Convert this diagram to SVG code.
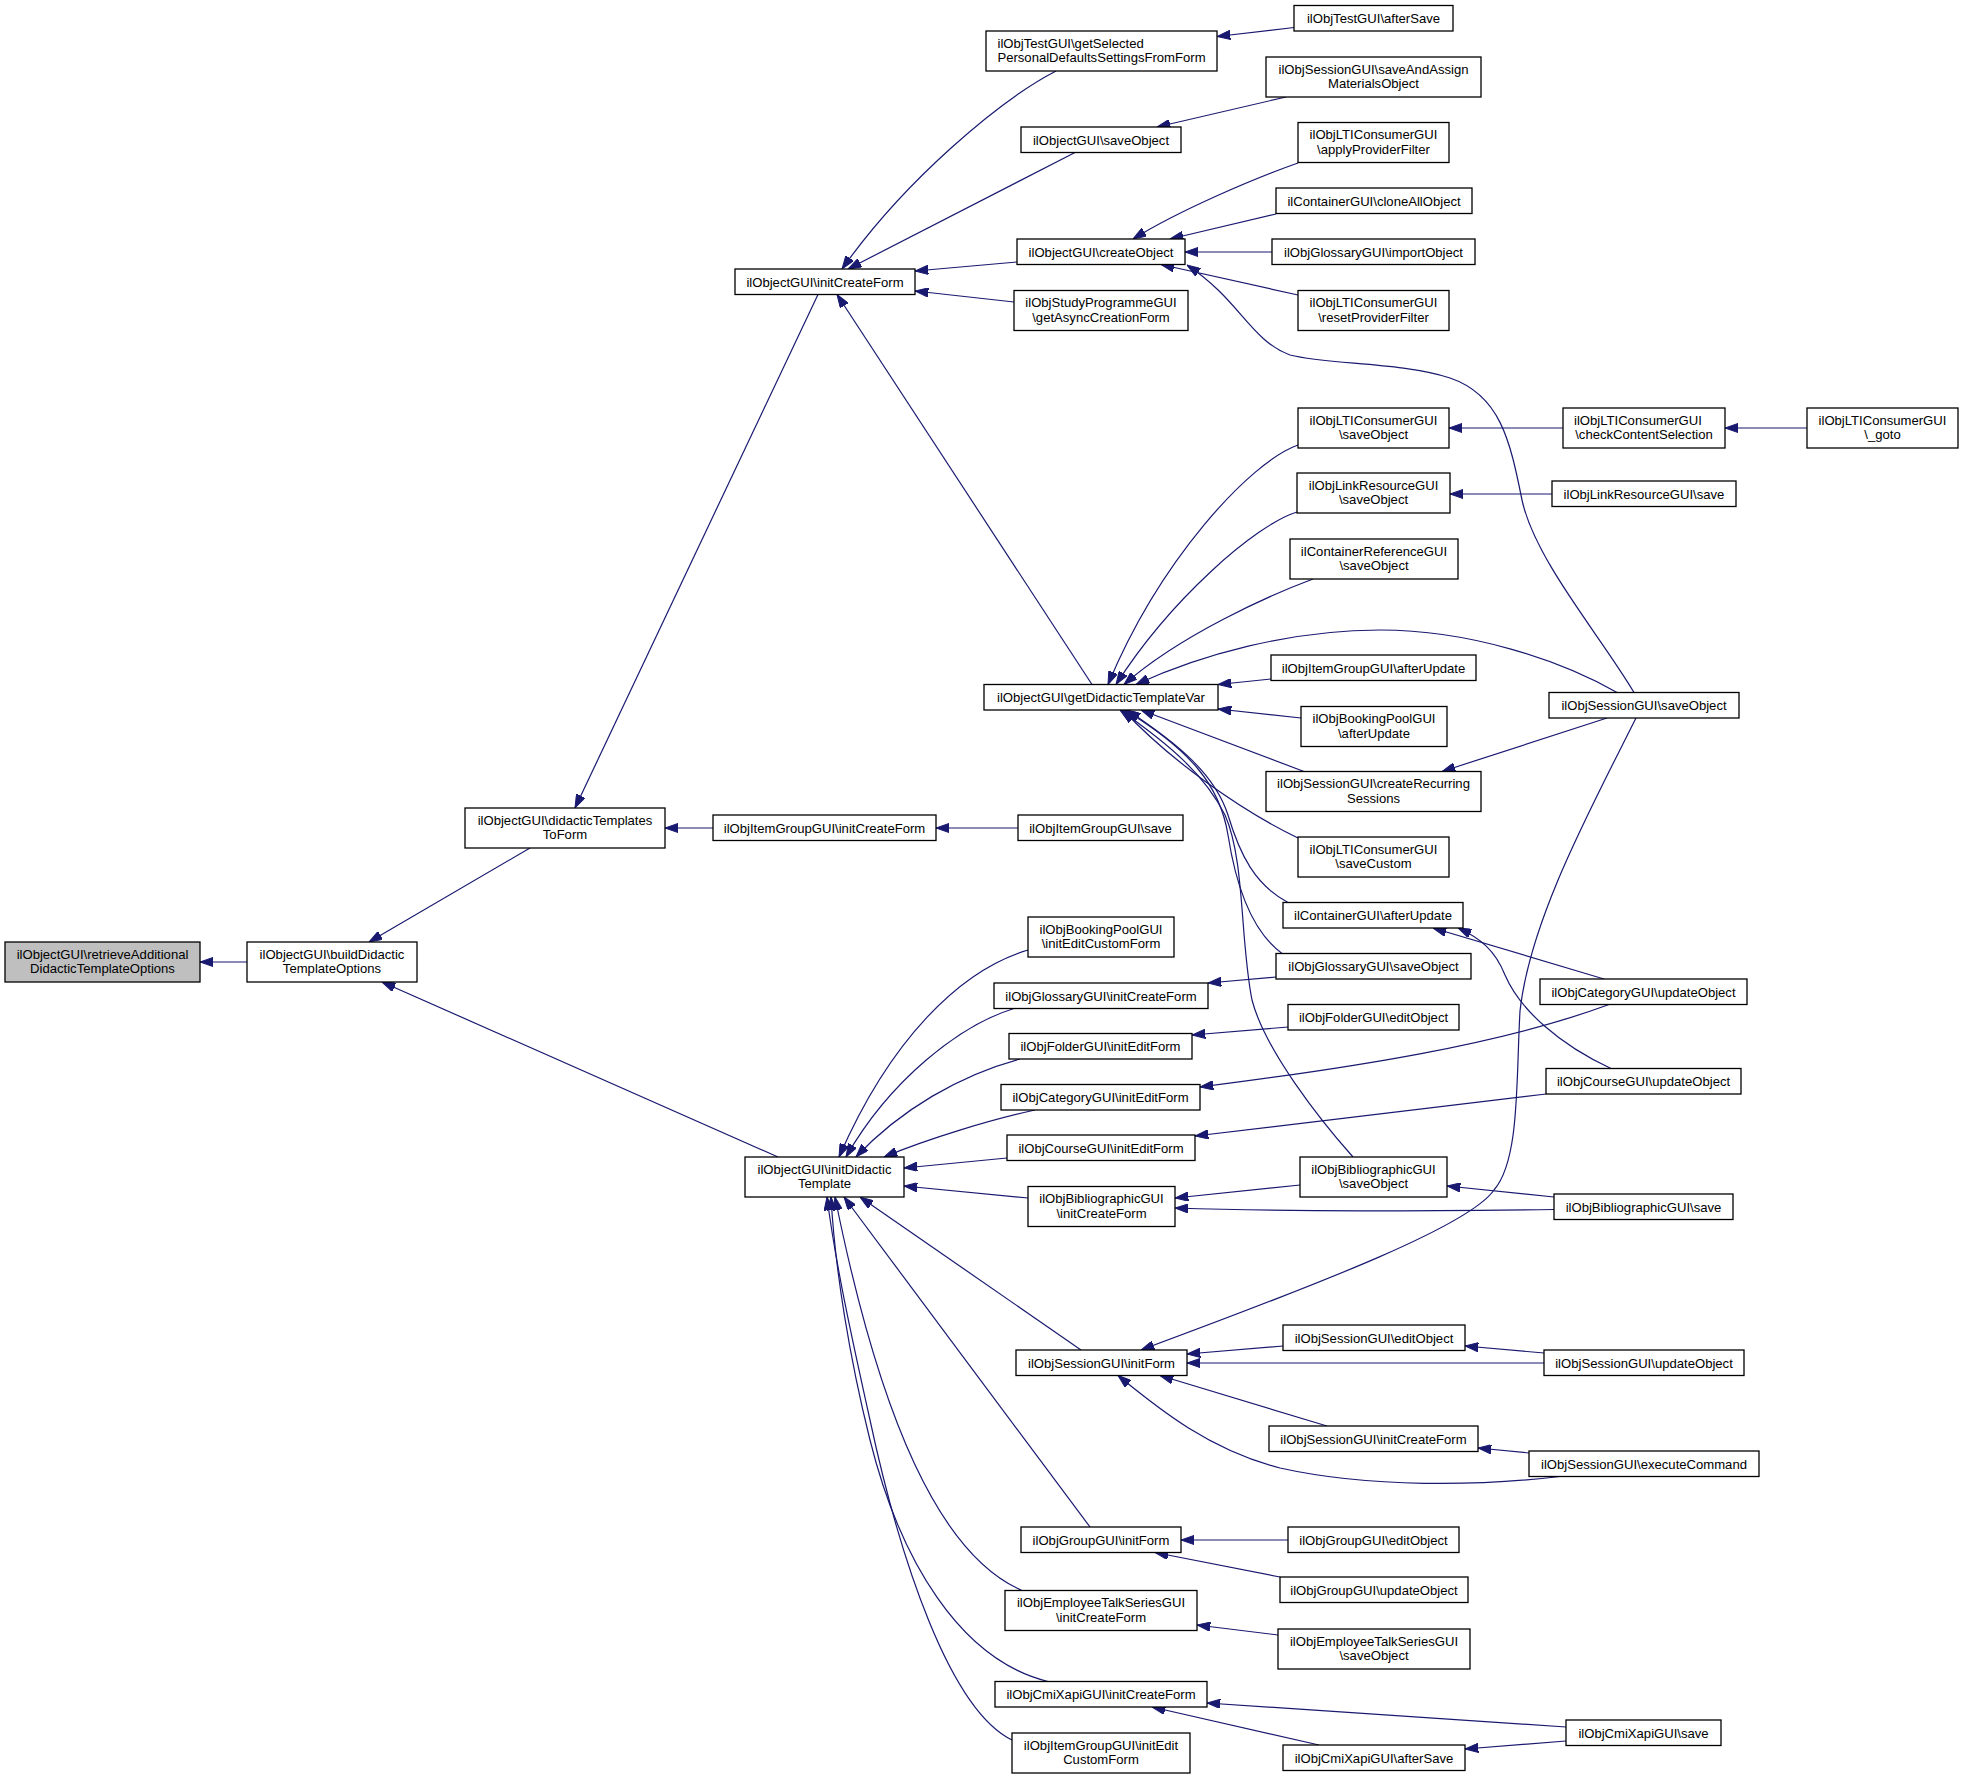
<svg xmlns="http://www.w3.org/2000/svg" width="1963" height="1779" viewBox="0 0 1963 1779">
<defs>
<marker id="ah" viewBox="0 0 13.3 9.3" refX="13.3" refY="4.65" markerWidth="13.3" markerHeight="9.3" markerUnits="userSpaceOnUse" orient="auto">
<path d="M0,0 L13.3,4.65 L0,9.3 z" fill="#191970" stroke="#191970" stroke-width="1"/>
</marker>
<style>
.node rect{fill:#fff;stroke:#000;stroke-width:1.3}
.node.hl rect{fill:#bfbfbf}
.node text{font-family:"Liberation Sans",Arial,Helvetica,sans-serif;font-size:13.1px;fill:#000;text-anchor:middle}
.node text.l{text-anchor:start}
#edges path{fill:none;stroke:#191970;stroke-width:1.2;marker-end:url(#ah)}
</style>
</defs>
<rect x="0" y="0" width="1963" height="1779" fill="#fff"/>
<g id="edges">
<path d="M247,962 L200,962"/>
<path d="M530,848 L369,942"/>
<path d="M778,1157 L382,982"/>
<path d="M818,294.5 L575,808"/>
<path d="M713,828 L665,828"/>
<path d="M1018,828 L936,828"/>
<path d="M1092,684.5 L837,294.5"/>
<path d="M1056,71 C1000,100 905,180 842,269"/>
<path d="M1075,152.5 L848,269"/>
<path d="M1017,262 L915,271"/>
<path d="M1014,302 L915,291"/>
<path d="M1294,27.5 L1217,36.5"/>
<path d="M1286,97 L1157,127"/>
<path d="M1298,163 C1255,178 1180,210 1133,239"/>
<path d="M1276,214 L1170,239"/>
<path d="M1272,252 L1185,252"/>
<path d="M1298,295 L1161,264.5"/>
<path d="M1634,692.5 C1600,635 1535,560 1522,500 C1510,440 1500,395 1450,378 C1400,362 1330,365 1290,355 C1250,340 1240,300 1187,265"/>
<path d="M1563,428 L1449,428"/>
<path d="M1807,428 L1725,428"/>
<path d="M1552,494 L1450,494"/>
<path d="M1298,445 C1250,462 1160,560 1108,684.5"/>
<path d="M1297,512 C1255,525 1170,600 1116,684.5"/>
<path d="M1313,579 C1270,595 1180,635 1124,684.5"/>
<path d="M1617,692.5 C1560,660 1470,630 1380,630 C1290,630 1200,655 1136,684.5"/>
<path d="M1271,679 L1218,684.5"/>
<path d="M1301,718 L1218,709"/>
<path d="M1304,771.5 L1141,710"/>
<path d="M1298,838 C1240,810 1170,760 1123,710"/>
<path d="M1288,902.5 C1255,885 1240,855 1228,815 C1215,775 1180,745 1127,710"/>
<path d="M1282,953.5 C1250,930 1235,880 1228,835 C1220,785 1190,750 1125,710"/>
<path d="M1353,1157 C1320,1120 1265,1050 1252,1000 C1240,940 1245,860 1225,815 C1205,775 1170,745 1120,710"/>
<path d="M1607,718 L1442,771.5"/>
<path d="M1604,979 L1433,928"/>
<path d="M1611,1068.5 C1560,1045 1520,1010 1505,975 C1495,950 1480,938 1458,928"/>
<path d="M1609,1004.5 C1500,1045 1350,1068 1200,1087"/>
<path d="M1546,1094 L1195,1136"/>
<path d="M1288,1027 L1192,1035"/>
<path d="M1276,977 L1208,983"/>
<path d="M1300,1185 L1175,1198"/>
<path d="M1554,1209.5 C1420,1211 1300,1212 1175,1208"/>
<path d="M1554,1197 L1447,1186"/>
<path d="M1028,950 C960,970 890,1040 839,1157"/>
<path d="M1014,1008.5 C960,1025 890,1080 846,1157"/>
<path d="M1020,1059 C960,1075 900,1110 856,1157"/>
<path d="M1035,1110 C990,1120 930,1138 884,1157"/>
<path d="M1007,1158 L904,1168"/>
<path d="M1028,1198 L904,1186"/>
<path d="M1081,1350 L860,1197"/>
<path d="M1090,1527 L844,1197"/>
<path d="M1022,1590.5 C940,1555 880,1420 835,1197"/>
<path d="M1048,1681.5 C960,1660 900,1560 870,1440 C850,1360 835,1270 831,1197"/>
<path d="M1012,1740 C950,1710 900,1560 870,1420 C850,1330 835,1260 827,1197"/>
<path d="M1636,718 C1590,810 1530,920 1520,1011 C1516,1080 1520,1160 1494,1190 C1470,1225 1330,1280 1141,1350"/>
<path d="M1283,1346 L1187,1354"/>
<path d="M1544,1363 L1187,1363"/>
<path d="M1327,1426 L1160,1375.5"/>
<path d="M1560,1476.5 C1480,1486 1370,1488 1280,1468 C1210,1450 1160,1410 1118,1375.5"/>
<path d="M1544,1353 L1465,1346"/>
<path d="M1529,1453 L1478,1448"/>
<path d="M1288,1540 L1181,1540"/>
<path d="M1280,1577 L1155,1552.5"/>
<path d="M1278,1635 L1197,1625"/>
<path d="M1566,1727 L1207,1703"/>
<path d="M1319,1745 L1152,1707"/>
<path d="M1566,1741 L1465,1749"/>
</g>
<g id="n_retrieve" class="node hl"><rect x="5" y="942" width="195" height="40"/><text x="102.5" y="958.8">ilObjectGUI\retrieveAdditional</text><text x="102.5" y="973.2">DidacticTemplateOptions</text></g>
<g id="n_build" class="node"><rect x="247" y="942" width="170" height="40"/><text x="332" y="958.8">ilObjectGUI\buildDidactic</text><text x="332" y="973.2">TemplateOptions</text></g>
<g id="n_dtToForm" class="node"><rect x="465" y="808" width="200" height="40"/><text x="565" y="824.8">ilObjectGUI\didacticTemplates</text><text x="565" y="839.2">ToForm</text></g>
<g id="n_initDidactic" class="node"><rect x="745" y="1157" width="159" height="40"/><text x="824.5" y="1173.8">ilObjectGUI\initDidactic</text><text x="824.5" y="1188.2">Template</text></g>
<g id="n_initCreateForm" class="node"><rect x="735" y="269" width="180" height="25.5"/><text x="825" y="286.6">ilObjectGUI\initCreateForm</text></g>
<g id="n_igInitCreateForm" class="node"><rect x="713" y="815" width="223" height="25.5"/><text x="824.5" y="832.6">ilObjItemGroupGUI\initCreateForm</text></g>
<g id="n_igSave" class="node"><rect x="1018" y="815" width="165" height="25.5"/><text x="1100.5" y="832.6">ilObjItemGroupGUI\save</text></g>
<g id="n_getSelected" class="node"><rect x="986" y="31" width="231" height="40"/><text class="l" x="997.5" y="47.8">ilObjTestGUI\getSelected</text><text x="1101.5" y="62.2">PersonalDefaultsSettingsFromForm</text></g>
<g id="n_testAfterSave" class="node"><rect x="1294" y="5.5" width="159" height="25.5"/><text x="1373.5" y="23.1">ilObjTestGUI\afterSave</text></g>
<g id="n_objSaveObject" class="node"><rect x="1021" y="127" width="160" height="25.5"/><text x="1101" y="144.6">ilObjectGUI\saveObject</text></g>
<g id="n_saveAndAssign" class="node"><rect x="1266" y="57" width="215" height="40"/><text x="1373.5" y="73.8">ilObjSessionGUI\saveAndAssign</text><text x="1373.5" y="88.2">MaterialsObject</text></g>
<g id="n_createObject" class="node"><rect x="1017" y="239" width="168" height="25.5"/><text x="1101" y="256.6">ilObjectGUI\createObject</text></g>
<g id="n_applyProv" class="node"><rect x="1298" y="122.5" width="151" height="40"/><text x="1373.5" y="139.3">ilObjLTIConsumerGUI</text><text x="1373.5" y="153.7">\applyProviderFilter</text></g>
<g id="n_cloneAll" class="node"><rect x="1276" y="188" width="196" height="25.5"/><text x="1374" y="205.6">ilContainerGUI\cloneAllObject</text></g>
<g id="n_glossImport" class="node"><rect x="1272" y="239" width="203" height="25.5"/><text x="1373.5" y="256.6">ilObjGlossaryGUI\importObject</text></g>
<g id="n_resetProv" class="node"><rect x="1298" y="290.5" width="151" height="40"/><text x="1373.5" y="307.3">ilObjLTIConsumerGUI</text><text x="1373.5" y="321.7">\resetProviderFilter</text></g>
<g id="n_studyProg" class="node"><rect x="1014" y="290.5" width="174" height="40"/><text x="1101" y="307.3">ilObjStudyProgrammeGUI</text><text x="1101" y="321.7">\getAsyncCreationForm</text></g>
<g id="n_gdtv" class="node"><rect x="984" y="684.5" width="234" height="25.5"/><text x="1101" y="702.1">ilObjectGUI\getDidacticTemplateVar</text></g>
<g id="n_ltiSave" class="node"><rect x="1298" y="408" width="151" height="40"/><text x="1373.5" y="424.8">ilObjLTIConsumerGUI</text><text x="1373.5" y="439.2">\saveObject</text></g>
<g id="n_ltiCheck" class="node"><rect x="1563" y="408" width="162" height="40"/><text class="l" x="1574" y="424.8">ilObjLTIConsumerGUI</text><text x="1644" y="439.2">\checkContentSelection</text></g>
<g id="n_ltiGoto" class="node"><rect x="1807" y="408" width="151" height="40"/><text x="1882.5" y="424.8">ilObjLTIConsumerGUI</text><text x="1882.5" y="439.2">\_goto</text></g>
<g id="n_lrSaveObject" class="node"><rect x="1297" y="473" width="153" height="40"/><text x="1373.5" y="489.8">ilObjLinkResourceGUI</text><text x="1373.5" y="504.2">\saveObject</text></g>
<g id="n_lrSave" class="node"><rect x="1552" y="481" width="184" height="25.5"/><text x="1644" y="498.6">ilObjLinkResourceGUI\save</text></g>
<g id="n_crSaveObject" class="node"><rect x="1290" y="539" width="168" height="40"/><text x="1374" y="555.8">ilContainerReferenceGUI</text><text x="1374" y="570.2">\saveObject</text></g>
<g id="n_igAfterUpdate" class="node"><rect x="1271" y="655" width="205" height="25.5"/><text x="1373.5" y="672.6">ilObjItemGroupGUI\afterUpdate</text></g>
<g id="n_bpAfterUpdate" class="node"><rect x="1301" y="706.5" width="146" height="40"/><text x="1374" y="723.3">ilObjBookingPoolGUI</text><text x="1374" y="737.7">\afterUpdate</text></g>
<g id="n_sessCreateRec" class="node"><rect x="1266" y="771.5" width="215" height="40"/><text x="1373.5" y="788.3">ilObjSessionGUI\createRecurring</text><text x="1373.5" y="802.7">Sessions</text></g>
<g id="n_ltiSaveCustom" class="node"><rect x="1298" y="837" width="151" height="40"/><text x="1373.5" y="853.8">ilObjLTIConsumerGUI</text><text x="1373.5" y="868.2">\saveCustom</text></g>
<g id="n_contAfterUpdate" class="node"><rect x="1283" y="902.5" width="180" height="25.5"/><text x="1373" y="920.1">ilContainerGUI\afterUpdate</text></g>
<g id="n_glossSaveObject" class="node"><rect x="1276" y="953.5" width="195" height="25.5"/><text x="1373.5" y="971.1">ilObjGlossaryGUI\saveObject</text></g>
<g id="n_sessSaveObject" class="node"><rect x="1549" y="692.5" width="190" height="25.5"/><text x="1644" y="710.1">ilObjSessionGUI\saveObject</text></g>
<g id="n_catUpdate" class="node"><rect x="1540" y="979" width="207" height="25.5"/><text x="1643.5" y="996.6">ilObjCategoryGUI\updateObject</text></g>
<g id="n_crsUpdate" class="node"><rect x="1546" y="1068.5" width="195" height="25.5"/><text x="1643.5" y="1086.1">ilObjCourseGUI\updateObject</text></g>
<g id="n_fldEditObject" class="node"><rect x="1288" y="1004.5" width="171" height="25.5"/><text x="1373.5" y="1022.1">ilObjFolderGUI\editObject</text></g>
<g id="n_bpInitEditCustom" class="node"><rect x="1028" y="917" width="146" height="40"/><text x="1101" y="933.8">ilObjBookingPoolGUI</text><text x="1101" y="948.2">\initEditCustomForm</text></g>
<g id="n_glossInitCreate" class="node"><rect x="994" y="983" width="214" height="25.5"/><text x="1101" y="1000.6">ilObjGlossaryGUI\initCreateForm</text></g>
<g id="n_fldInitEdit" class="node"><rect x="1009" y="1033.5" width="183" height="25.5"/><text x="1100.5" y="1051.1">ilObjFolderGUI\initEditForm</text></g>
<g id="n_catInitEdit" class="node"><rect x="1001" y="1084.5" width="199" height="25.5"/><text x="1100.5" y="1102.1">ilObjCategoryGUI\initEditForm</text></g>
<g id="n_crsInitEdit" class="node"><rect x="1007" y="1135" width="188" height="25.5"/><text x="1101" y="1152.6">ilObjCourseGUI\initEditForm</text></g>
<g id="n_bibInitCreate" class="node"><rect x="1028" y="1186.5" width="147" height="40"/><text x="1101.5" y="1203.3">ilObjBibliographicGUI</text><text x="1101.5" y="1217.7">\initCreateForm</text></g>
<g id="n_bibSaveObject" class="node"><rect x="1300" y="1157" width="147" height="40"/><text x="1373.5" y="1173.8">ilObjBibliographicGUI</text><text x="1373.5" y="1188.2">\saveObject</text></g>
<g id="n_bibSave" class="node"><rect x="1554" y="1194" width="179" height="25.5"/><text x="1643.5" y="1211.6">ilObjBibliographicGUI\save</text></g>
<g id="n_sessInitForm" class="node"><rect x="1016" y="1350" width="171" height="25.5"/><text x="1101.5" y="1367.6">ilObjSessionGUI\initForm</text></g>
<g id="n_sessEdit" class="node"><rect x="1283" y="1325" width="182" height="25.5"/><text x="1374" y="1342.6">ilObjSessionGUI\editObject</text></g>
<g id="n_sessUpdate" class="node"><rect x="1544" y="1350" width="200" height="25.5"/><text x="1644" y="1367.6">ilObjSessionGUI\updateObject</text></g>
<g id="n_sessInitCreate" class="node"><rect x="1269" y="1426" width="209" height="25.5"/><text x="1373.5" y="1443.6">ilObjSessionGUI\initCreateForm</text></g>
<g id="n_sessExec" class="node"><rect x="1529" y="1451" width="230" height="25.5"/><text x="1644" y="1468.6">ilObjSessionGUI\executeCommand</text></g>
<g id="n_grpInitForm" class="node"><rect x="1021" y="1527" width="160" height="25.5"/><text x="1101" y="1544.6">ilObjGroupGUI\initForm</text></g>
<g id="n_grpEdit" class="node"><rect x="1288" y="1527" width="171" height="25.5"/><text x="1373.5" y="1544.6">ilObjGroupGUI\editObject</text></g>
<g id="n_grpUpdate" class="node"><rect x="1280" y="1577" width="188" height="25.5"/><text x="1374" y="1594.6">ilObjGroupGUI\updateObject</text></g>
<g id="n_etInitCreate" class="node"><rect x="1005" y="1590.5" width="192" height="40"/><text x="1101" y="1607.3">ilObjEmployeeTalkSeriesGUI</text><text x="1101" y="1621.7">\initCreateForm</text></g>
<g id="n_etSave" class="node"><rect x="1278" y="1629" width="192" height="40"/><text x="1374" y="1645.8">ilObjEmployeeTalkSeriesGUI</text><text x="1374" y="1660.2">\saveObject</text></g>
<g id="n_cmiInitCreate" class="node"><rect x="995" y="1681.5" width="212" height="25.5"/><text x="1101" y="1699.1">ilObjCmiXapiGUI\initCreateForm</text></g>
<g id="n_cmiSave" class="node"><rect x="1566" y="1720" width="155" height="25.5"/><text x="1643.5" y="1737.6">ilObjCmiXapiGUI\save</text></g>
<g id="n_cmiAfterSave" class="node"><rect x="1283" y="1745" width="182" height="25.5"/><text x="1374" y="1762.6">ilObjCmiXapiGUI\afterSave</text></g>
<g id="n_igInitEditCustom" class="node"><rect x="1012" y="1733" width="178" height="40"/><text x="1101" y="1749.8">ilObjItemGroupGUI\initEdit</text><text x="1101" y="1764.2">CustomForm</text></g>
</svg>
